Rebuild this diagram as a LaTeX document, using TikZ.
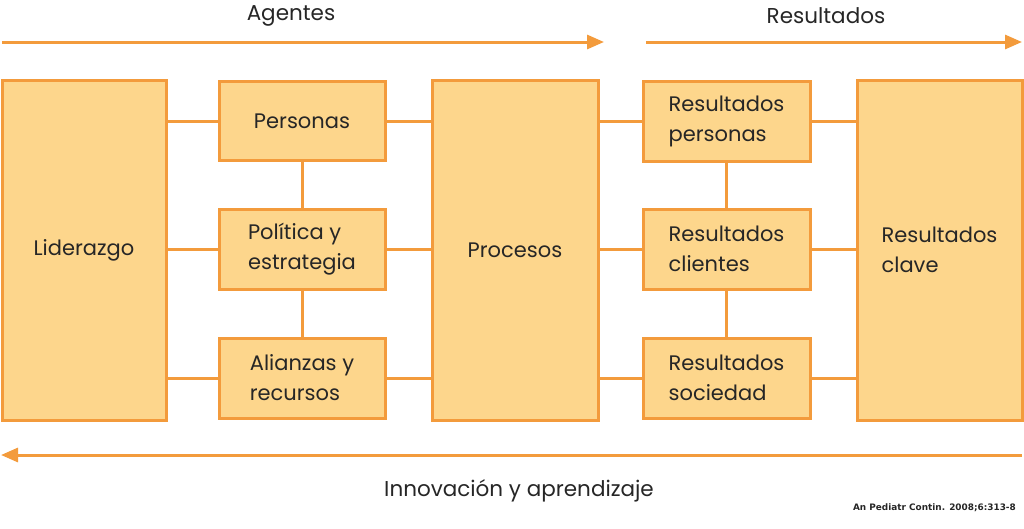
\documentclass[tikz,border=0pt]{standalone}
\usepackage{fontspec}
\setmainfont{Poppins}
\newfontfamily\citefont{DejaVu Sans}
\usetikzlibrary{arrows.meta}
\definecolor{boxfill}{HTML}{FDD68C}
\definecolor{boxline}{HTML}{F39B3C}
\definecolor{txt}{HTML}{262626}
\tikzset{
  box/.style={draw=boxline, line width=3pt, fill=boxfill, inner sep=0pt, text=txt,
    font=\fontsize{21}{30}\selectfont, align=left},
  conn/.style={draw=boxline, line width=3pt},
  flow/.style={draw=boxline, line width=3pt, -{Triangle[length=17pt,width=14pt]}},
  lbl/.style={text=txt, font=\fontsize{21.5}{26}\selectfont, inner sep=0pt}
}
\begin{document}
\begin{tikzpicture}[x=1pt,y=-1pt]
\useasboundingbox (0,0) rectangle (1024,528);
% big boxes
\node[box, minimum width=164pt, minimum height=340pt] (lid) at (84,250) {Liderazgo};
\node[box, minimum width=166pt, minimum height=340pt] (pro) at (515,250) {Procesos};
\node[box, minimum width=165pt, minimum height=340pt] (rk) at (939.5,250) {Resultados\\clave};
% small boxes
\node[box, minimum width=166pt, minimum height=79pt] (per) at (302,121) {Personas};
\node[box, minimum width=166pt, minimum height=80pt] (pol) at (302,249) {Política y\\estrategia};
\node[box, minimum width=166pt, minimum height=80pt] (ali) at (302,378) {Alianzas y\\recursos};
\node[box, minimum width=167pt, minimum height=80pt] (rp) at (726.5,121) {Resultados\\personas};
\node[box, minimum width=167pt, minimum height=80pt] (rc) at (726.5,249) {Resultados\\clientes};
\node[box, minimum width=167pt, minimum height=80pt] (rs) at (726.5,378) {Resultados\\sociedad};
% horizontal connectors
\draw[conn] (lid.east |- per.west) -- (per.west);
\draw[conn] (lid.east |- pol.west) -- (pol.west);
\draw[conn] (lid.east |- ali.west) -- (ali.west);
\draw[conn] (per.east) -- (pro.west |- per.east);
\draw[conn] (pol.east) -- (pro.west |- pol.east);
\draw[conn] (ali.east) -- (pro.west |- ali.east);
\draw[conn] (pro.east |- rp.west) -- (rp.west);
\draw[conn] (pro.east |- rc.west) -- (rc.west);
\draw[conn] (pro.east |- rs.west) -- (rs.west);
\draw[conn] (rp.east) -- (rk.west |- rp.east);
\draw[conn] (rc.east) -- (rk.west |- rc.east);
\draw[conn] (rs.east) -- (rk.west |- rs.east);
% vertical connectors
\draw[conn] (per.south) -- (pol.north);
\draw[conn] (pol.south) -- (ali.north);
\draw[conn] (rp.south) -- (rc.north);
\draw[conn] (rc.south) -- (rs.north);
% flow arrows
\coordinate (a1s) at (2,42);
\coordinate (a1e) at (604,42);
\coordinate (a2s) at (646,42);
\coordinate (a2e) at (1022,42);
\coordinate (a3s) at (1022,455);
\coordinate (a3e) at (1,455);
\draw[flow] (a1s) -- (a1e);
\draw[flow] (a2s) -- (a2e);
\draw[flow] (a3s) -- (a3e);
\node[lbl] (ag) at (291,16) {Agentes};
\node[lbl] (res) at (826,16) {Resultados};
\node[lbl] (inn) at (519,491) {Innovación y aprendizaje};
\node[text=txt, font=\citefont\bfseries\fontsize{8.9}{10}\selectfont, inner sep=0pt, anchor=east] (cit) at (1016,508) {An Pediatr Contin. 2008;6:313-8};
\end{tikzpicture}
\end{document}
